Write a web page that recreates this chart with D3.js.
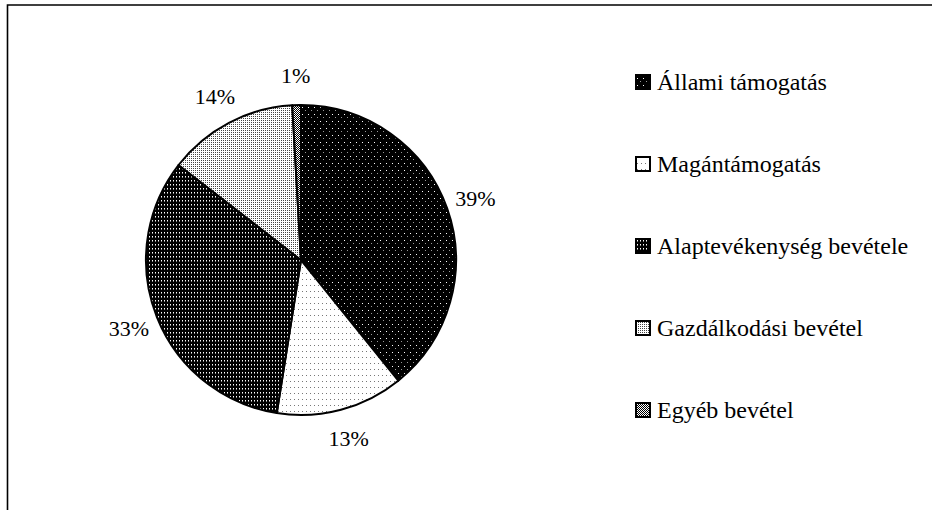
<!DOCTYPE html>
<html><head><meta charset="utf-8">
<script src="https://cdn.jsdelivr.net/npm/d3@7"></script>
<style>html,body{margin:0;padding:0;background:#fff;}svg{display:block;}</style>
</head><body>
<script>
const categories = ["Állami támogatás","Magántámogatás","Alaptevékenység bevétele","Gazdálkodási bevétel","Egyéb bevétel"];
const values = [39.2, 13.3, 33.0, 13.6, 0.9];

const W = 932, H = 510;
const svg = d3.select("body").append("svg").attr("width", W).attr("height", H)
  .style("font-family", "'Liberation Serif','Times New Roman',serif");

const defs = svg.append("defs");
function pat(id, w, h, bg, dots) {
  const p = defs.append("pattern").attr("id", id).attr("patternUnits", "userSpaceOnUse")
    .attr("width", w).attr("height", h);
  p.append("rect").attr("width", w).attr("height", h).attr("fill", bg);
  dots.forEach(d => p.append("rect").attr("x", d[0]).attr("y", d[1]).attr("width", d[2] || 1).attr("height", d[3] || 1).attr("fill", d[4]));
}
pat("p0", 6, 7, "#000", [[1,1,1,1,"#fff"],[4,4,1,1,"#999"]]);
pat("p1", 4, 6, "#fff", [[1,1,1,1,"#777"]]);
pat("p2", 3, 4, "#000", [[1,0,1,1,"#fff"],[1,1,1,1,"#888"]]);
pat("p3", 2, 2, "#fff", [[0,0,1,1,"#444"]]);
pat("p4", 2, 2, "#fff", [[0,0,1,1,"#000"],[1,1,1,1,"#000"]]);
const fills = categories.map((c, i) => `url(#p${i})`);

// frame
svg.append("path").attr("d", `M7.5,${H} V5 H${W}`).attr("fill", "none").attr("stroke", "#000").attr("stroke-width", 1.6);

const cx = 301, cy = 260, r = 155;
const pie = d3.pie().sort(null).value(d => d)(values);
const arc = d3.arc().innerRadius(0).outerRadius(r);
const g = svg.append("g").attr("transform", `translate(${cx},${cy})`);
g.selectAll("path.slice").data(pie).join("path").attr("class", "slice")
  .attr("d", arc).attr("fill", (d, i) => fills[i])
  .attr("stroke", "#000").attr("stroke-width", 2).attr("stroke-linejoin", "round");

const total = d3.sum(values);
const labelArc = d3.arc().innerRadius(r + 30).outerRadius(r + 30);
g.selectAll("text.lbl").data(pie).join("text").attr("class", "lbl")
  .attr("transform", d => `translate(${labelArc.centroid(d)})`)
  .attr("text-anchor", "middle").attr("dy", "0.35em")
  .attr("font-size", 22)
  .text(d => Math.round(d.data / total * 100) + "%");

// legend
const lx = 635, ly0 = 90, step = 82, box = 16;
const lg = svg.append("g");
categories.forEach((c, i) => {
  const y = ly0 + i * step;
  lg.append("rect").attr("x", lx + 1).attr("y", y - box + 1).attr("width", box - 2).attr("height", box - 2)
    .attr("fill", fills[i]).attr("stroke", "#000").attr("stroke-width", 2);
  lg.append("text").attr("x", lx + 22).attr("y", y).attr("font-size", 24).text(c);
});
</script>
</body></html>
